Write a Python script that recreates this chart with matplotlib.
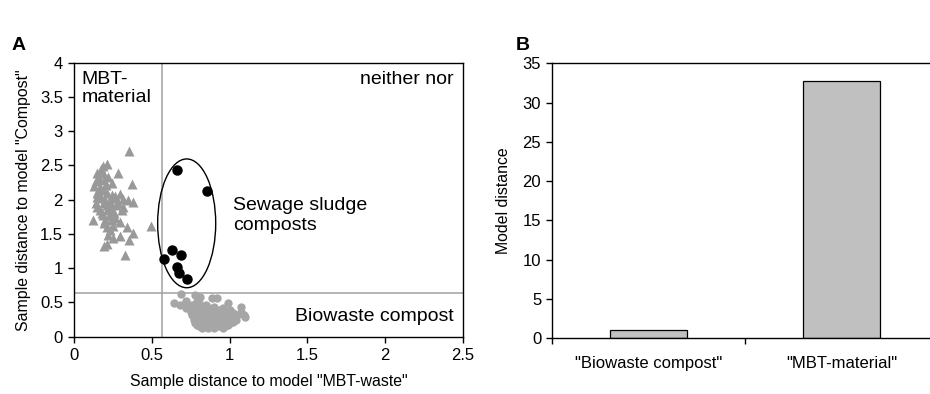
import matplotlib
matplotlib.use("Agg")
import matplotlib.pyplot as plt
from matplotlib.patches import Ellipse

plt.rcParams['font.family'] = ['Liberation Sans', 'DejaVu Sans']

# MBT-material samples (triangles)
mbt_x = [0.356, 0.210, 0.189, 0.171, 0.146, 0.285, 0.184, 0.193, 0.242, 0.371,
         0.129, 0.167, 0.184, 0.150, 0.210, 0.296, 0.242, 0.146, 0.171, 0.253,
         0.317, 0.349, 0.381, 0.141, 0.193, 0.231, 0.270, 0.313, 0.167, 0.210,
         0.253, 0.306, 0.184, 0.227, 0.264, 0.124, 0.199, 0.242, 0.296, 0.495,
         0.210, 0.339, 0.231, 0.381, 0.296, 0.253, 0.355, 0.210, 0.193, 0.328,
         0.160, 0.220, 0.200, 0.230, 0.150, 0.180, 0.260, 0.280, 0.140, 0.250,
         0.175, 0.205, 0.215, 0.190, 0.235, 0.155, 0.265, 0.220]
mbt_y = [2.71, 2.52, 2.49, 2.42, 2.39, 2.39, 2.39, 2.29, 2.25, 2.23,
         2.20, 2.19, 2.14, 2.10, 2.10, 2.09, 2.07, 2.04, 2.02, 2.02,
         2.01, 2.00, 1.97, 1.95, 1.95, 1.94, 1.92, 1.90, 1.85, 1.85,
         1.84, 1.85, 1.78, 1.76, 1.74, 1.70, 1.70, 1.70, 1.68, 1.62,
         1.60, 1.60, 1.56, 1.52, 1.47, 1.44, 1.41, 1.36, 1.32, 1.19,
         2.32, 2.33, 2.00, 1.98, 1.90, 1.80, 1.80, 1.95, 2.27, 1.62,
         2.45, 2.22, 1.92, 1.66, 1.88, 2.12, 2.05, 1.48]

# sewage sludge composts (black circles)
sludge_x = [0.664, 0.853, 0.630, 0.686, 0.578, 0.664, 0.677, 0.724]
sludge_y = [2.44, 2.12, 1.26, 1.19, 1.14, 1.02, 0.925, 0.84]

# biowaste composts (grey circles)
bio_x = [0.69, 0.78, 0.81, 0.885, 0.92, 0.72, 0.79, 0.64, 0.80, 0.99,
         0.68, 0.85, 0.76, 0.90, 1.07, 0.82, 0.72, 0.96, 0.87,
         0.78, 0.84, 0.93, 1.00, 0.75, 0.80, 0.88, 0.95, 1.07,
         0.78, 0.85, 0.91, 0.94, 1.02,
         0.76, 0.82, 0.87, 0.90, 0.97, 1.05, 1.09,
         0.77, 0.80, 0.84, 0.89, 0.93, 1.00, 1.10,
         0.78, 0.83, 0.86, 0.92, 0.96, 1.01,
         0.77, 0.81, 0.85, 0.88, 0.91, 0.95, 0.99, 1.04,
         0.79, 0.83, 0.87, 0.90, 0.94, 0.98, 1.02,
         0.78, 0.82, 0.85, 0.88, 0.93, 0.96, 1.00,
         0.79, 0.83, 0.87, 0.91, 0.95, 0.99,
         0.80, 0.84, 0.89, 0.93, 0.97,
         0.82, 0.86, 0.90, 0.96]
bio_y = [0.63, 0.61, 0.58, 0.56, 0.56, 0.52, 0.52, 0.49, 0.49, 0.49,
         0.46, 0.46, 0.46, 0.44, 0.44, 0.44, 0.42, 0.42, 0.42,
         0.39, 0.39, 0.39, 0.39, 0.36, 0.36, 0.36, 0.36, 0.36,
         0.34, 0.34, 0.34, 0.34, 0.34,
         0.31, 0.31, 0.31, 0.31, 0.31, 0.31, 0.31,
         0.29, 0.29, 0.29, 0.29, 0.29, 0.29, 0.29,
         0.27, 0.27, 0.27, 0.27, 0.27, 0.27,
         0.24, 0.24, 0.24, 0.24, 0.24, 0.24, 0.24, 0.24,
         0.22, 0.22, 0.22, 0.22, 0.22, 0.22, 0.22,
         0.20, 0.20, 0.20, 0.20, 0.20, 0.20, 0.20,
         0.17, 0.17, 0.17, 0.17, 0.17, 0.17,
         0.15, 0.15, 0.15, 0.15, 0.15,
         0.13, 0.13, 0.13, 0.13]

# class limits
limit_x = 0.564
limit_y = 0.633

# model distances (panel B)
models = ['"Biowaste compost"', '"MBT-material"']
model_dist = [1.05, 32.7]

fig = plt.figure(figsize=(9.3, 3.94), dpi=100)

# --- panel A ---
ax1 = fig.add_axes([0.0796, 0.1454, 0.4183, 0.6955])
ax1.axvline(limit_x, color='#a0a0a0', lw=1.1, zorder=1)
ax1.axhline(limit_y, color='#a0a0a0', lw=1.1, zorder=1)
ax1.plot(mbt_x, mbt_y, '^', color='#999999', ms=7, mec='none', zorder=2)
ax1.plot(bio_x, bio_y, 'o', color='#a6a6a6', ms=6, mec='none', zorder=2)
ax1.plot(sludge_x, sludge_y, 'o', color='black', ms=6.5, zorder=3)
ax1.add_patch(Ellipse((0.724, 1.655), 0.373, 1.88, fill=False, ec='black', lw=1, zorder=3))

ax1.set_xlim(0, 2.5)
ax1.set_ylim(0, 4)
ax1.set_xticks([0, 0.5, 1, 1.5, 2, 2.5])
ax1.set_xticklabels(['0', '0.5', '1', '1.5', '2', '2.5'])
ax1.set_yticks([0, 0.5, 1, 1.5, 2, 2.5, 3, 3.5, 4])
ax1.set_yticklabels(['0', '0.5', '1', '1.5', '2', '2.5', '3', '3.5', '4'])
ax1.tick_params(direction='out', length=4, width=1, labelsize=12, pad=4)
ax1.set_xlabel('Sample distance to model "MBT-waste"', fontsize=11.4, labelpad=8)
ax1.set_ylabel('Sample distance to model "Compost"', fontsize=11.4, labelpad=6)
for s in ax1.spines.values():
    s.set_linewidth(1)

ax1.text(0.05, 3.88, 'MBT-\nmaterial', fontsize=14, va='top', ha='left', linespacing=1.1)
ax1.text(2.44, 3.88, 'neither nor', fontsize=14, va='top', ha='right')
ax1.text(1.02, 1.77, 'Sewage sludge\ncomposts', fontsize=14, va='center', ha='left', linespacing=1.2)
ax1.text(2.44, 0.3, 'Biowaste compost', fontsize=14, va='center', ha='right')

# --- panel B ---
ax2 = fig.add_axes([0.5939, 0.1413, 0.4144, 0.6980])
ax2.bar(range(len(models)), model_dist, width=0.4, color='#c0c0c0', edgecolor='black', lw=0.9)
ax2.set_xlim(-0.5, 1.5)
ax2.set_ylim(0, 35)
ax2.set_yticks(range(0, 36, 5))
ax2.set_xticks([-0.5, 0.5, 1.5])
ax2.set_xticklabels([])
ax2.set_xticks([0, 1], minor=True)
ax2.set_xticklabels(models, minor=True)
ax2.tick_params(axis='x', which='minor', length=0, labelsize=12, pad=13)
ax2.tick_params(axis='x', which='major', direction='out', length=4, width=1)
ax2.tick_params(axis='y', direction='out', length=4, width=1, labelsize=12, pad=4)
ax2.set_ylabel('Model distance', fontsize=11.4, labelpad=8)
for s in ax2.spines.values():
    s.set_linewidth(1)

fig.text(0.012, 0.885, 'A', fontsize=14, fontweight='bold', ha='left', va='center')
fig.text(0.555, 0.885, 'B', fontsize=14, fontweight='bold', ha='left', va='center')

fig.savefig('out.png', dpi=100)
